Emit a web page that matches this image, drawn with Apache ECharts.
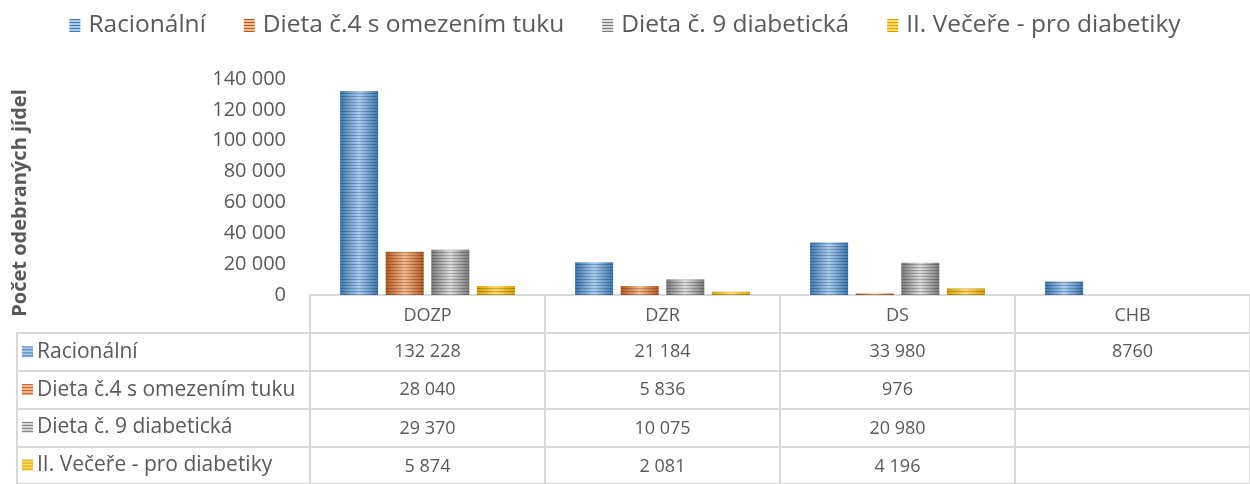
<!DOCTYPE html>
<html>
<head>
<meta charset="utf-8">
<script src="https://cdn.jsdelivr.net/npm/echarts@6/dist/echarts.min.js"></script>
<style>
  html, body { margin: 0; padding: 0; background: #fff; }
  #chart { width: 1250px; height: 484px; }
</style>
</head>
<body>
<div id="chart"></div>
<script>
  // --- data ---
  const categories = ['DOZP', 'DZR', 'DS', 'CHB'];
  const seriesNames = ['Racionální', 'Dieta č.4 s omezením tuku', 'Dieta č. 9 diabetická', 'II. Večeře - pro diabetiky'];
  const racionalni = [132228, 21184, 33980, 8760];
  const dieta4 = [28040, 5836, 976, null];
  const dieta9 = [29370, 10075, 20980, null];
  const vecere = [5874, 2081, 4196, null];
  // the CHB column in the source table has no digit grouping
  const groupedDigits = [true, true, true, false];
  const yMin = 0, yMax = 140000, yStep = 20000;

  const rows = [racionalni, dieta4, dieta9, vecere];

  // --- style ---
  const textColor = '#595959';
  const lineColor = '#d9d9d9';
  const palette = [
    { base: '#5b9bd5', edge: '#3f78b2', mid: '#a8cdf0' },
    { base: '#ed7d31', edge: '#b45c22', mid: '#f7b98e' },
    { base: '#a5a5a5', edge: '#7a7a7a', mid: '#dcdcdc' },
    { base: '#ffc000', edge: '#d9a300', mid: '#ffd966' }
  ];
  const rowH = 38.25;

  function fmt(v, grouped) {
    if (v == null) return '';
    const s = String(v);
    return grouped ? s.replace(/\B(?=(\d{3})+(?!\d))/g, ' ') : s;
  }

  // small striped swatch for the legend and the table's row keys
  function swatch(c, w, h) {
    const cv = document.createElement('canvas');
    cv.width = w; cv.height = h;
    const ctx = cv.getContext('2d');
    ctx.fillStyle = c.mid;
    ctx.fillRect(0, 0, w, h);
    ctx.fillStyle = c.edge;
    for (let y = 0; y < h; y += 3) ctx.fillRect(0, y, w, 1);
    return cv;
  }

  const chart = echarts.init(document.getElementById('chart'));

  const rich = { t: { fontSize: 21, color: textColor, padding: [0, 0, 0, 4] } };
  palette.forEach((c, i) => {
    rich['k' + i] = { width: 11, height: 11, backgroundColor: { image: swatch(c, 11, 11) } };
  });

  const valueAxes = rows.map((row, i) => ({
    gridIndex: 0,
    type: 'category',
    data: categories,
    position: 'bottom',
    offset: 38 + rowH * i,
    axisLine: { show: false },
    axisTick: { show: false },
    splitLine: { show: false },
    axisLabel: {
      interval: 0,
      margin: 19,
      verticalAlign: 'middle',
      fontSize: 18,
      color: textColor,
      formatter: (v, idx) => fmt(row[idx], groupedDigits[idx])
    }
  }));

  const option = {
    animation: false,
    textStyle: { fontFamily: 'Open Sans' },
    legend: {
      data: seriesNames.map((name, i) => ({
        name: name,
        itemStyle: { color: { image: swatch(palette[i], 11, 13), repeat: 'repeat' }, decal: 'none' }
      })),
      top: 8,
      left: 'center',
      icon: 'rect',
      itemWidth: 11,
      itemHeight: 13,
      itemGap: 38,
      textStyle: { fontSize: 24.5, color: textColor, padding: [0, 0, 0, 3] }
    },
    grid: [
      { left: 310, right: 0, top: 79, height: 216 },
      { left: 17, right: 0, top: 333, height: rowH * 4 }
    ],
    xAxis: [
      {
        gridIndex: 0,
        type: 'category',
        data: categories,
        position: 'bottom',
        axisLine: { lineStyle: { color: lineColor, width: 2 } },
        axisTick: { show: true, length: 189, lineStyle: { color: lineColor, width: 2 } },
        axisLabel: { margin: 21, verticalAlign: 'middle', fontSize: 18, color: textColor }
      },
      ...valueAxes,
      { gridIndex: 1, type: 'value', show: false }
    ],
    yAxis: [
      {
        gridIndex: 0,
        type: 'value',
        min: yMin,
        max: yMax,
        interval: yStep,
        axisLine: { show: false },
        axisTick: { show: false },
        splitLine: { show: false },
        axisLabel: { margin: 24, fontSize: 20, color: textColor, formatter: v => fmt(v, true) },
        name: 'Počet odebraných jídel',
        nameLocation: 'middle',
        nameRotate: 90,
        nameGap: 280,
        nameTextStyle: { fontSize: 20, fontWeight: 'bold', color: textColor, padding: [0, 32, 0, 0] }
      },
      {
        gridIndex: 1,
        type: 'category',
        inverse: true,
        data: seriesNames,
        axisLine: { show: true, lineStyle: { color: lineColor, width: 2 } },
        axisTick: { show: false },
        splitLine: { show: true, interval: 0, lineStyle: { color: lineColor, width: 2 } },
        axisLabel: {
          inside: true,
          margin: 5,
          interval: 0,
          formatter: (v, i) => '{k' + i + '|}{t|' + v + '}',
          rich: rich
        }
      }
    ],
    series: rows.map((row, i) => ({
      name: seriesNames[i],
      type: 'bar',
      xAxisIndex: 0,
      yAxisIndex: 0,
      data: row,
      barWidth: 38,
      barGap: '20%',
      itemStyle: {
        color: new echarts.graphic.LinearGradient(0, 0, 1, 0, [
          { offset: 0, color: palette[i].edge },
          { offset: 0.5, color: palette[i].mid },
          { offset: 1, color: palette[i].edge }
        ]),
        decal: {
          symbol: 'rect',
          symbolSize: 1,
          dashArrayX: [[1, 0]],
          dashArrayY: [1, 2],
          color: 'rgba(0, 0, 0, 0.22)'
        }
      }
    }))
  };

  chart.setOption(option);
</script>
</body>
</html>
